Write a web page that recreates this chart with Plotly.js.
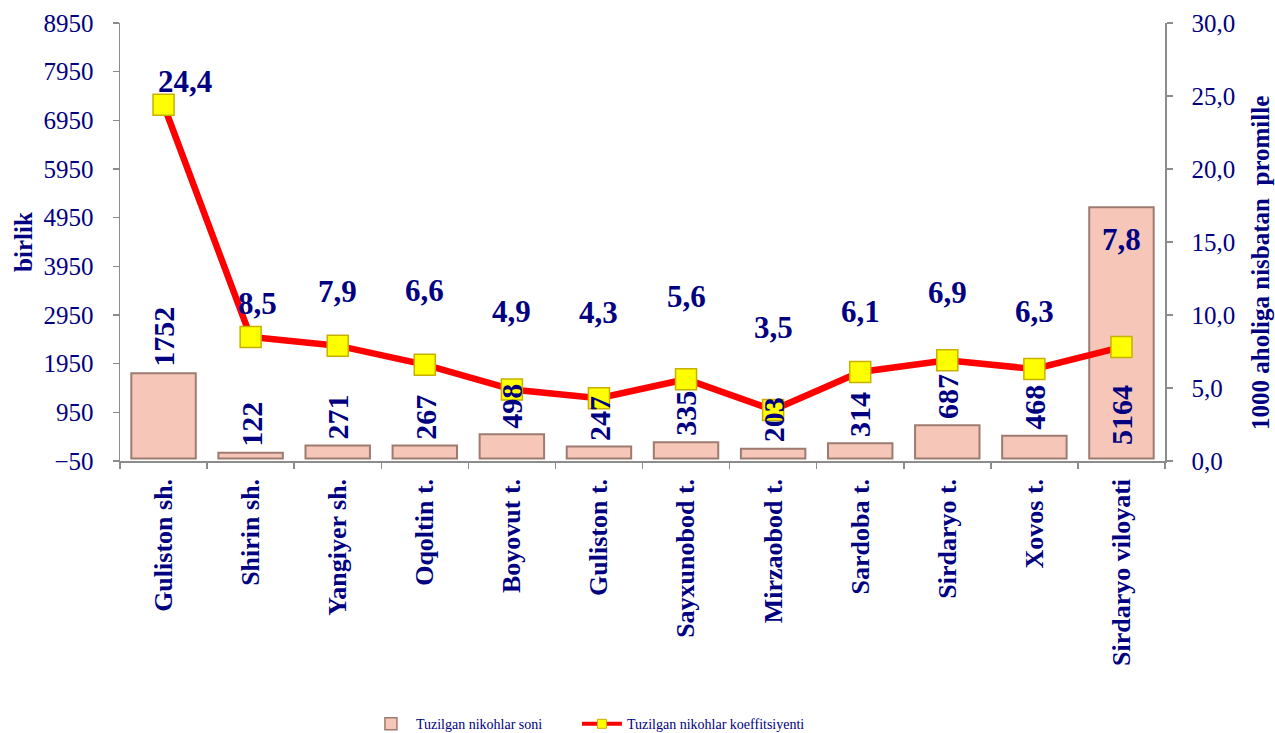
<!DOCTYPE html>
<html>
<head>
<meta charset="utf-8">
<script src="https://cdn.plot.ly/plotly-3.0.1.min.js"></script>
<style>html,body{margin:0;padding:0;background:#fff;}#chart{width:1275px;height:733px;}</style>
</head>
<body>
<div id="chart"></div>
<script>
// ---- data ----
var categories = ["Guliston sh.", "Shirin sh.", "Yangiyer sh.", "Oqoltin t.", "Boyovut t.", "Guliston t.", "Sayxunobod t.", "Mirzaobod t.", "Sardoba t.", "Sirdaryo t.", "Xovos t.", "Sirdaryo viloyati"];
var marriages = [1752, 122, 271, 267, 498, 247, 335, 203, 314, 687, 468, 5164];
var coefficient = [24.4, 8.5, 7.9, 6.6, 4.9, 4.3, 5.6, 3.5, 6.1, 6.9, 6.3, 7.8];
var seriesNames = ["Tuzilgan nikohlar soni", "Tuzilgan nikohlar koeffitsiyenti"];
var leftTitle = "birlik";
var rightTitle = "1000 aholiga nisbatan  promille";

// ---- label offsets (style) ----
var labelYShift = [23, 33, 54, 74, 78, 86, 83, 82, 60, 68, 58, 108];
var labelXShift = [21, 7, 0, 0, 0, 0, 0, 0, 0, 0, 0, 0];

var NAVY = "#000080";
var FONT = "'Times New Roman', 'Liberation Serif', serif";
var BAR_FILL = "#f6c7b9";
var BAR_EDGE = "#9e7b70";

var barTrace = {
  type: "bar",
  name: seriesNames[0],
  x: categories,
  y: marriages,
  yaxis: "y",
  width: 0.74,
  marker: { color: BAR_FILL, line: { color: BAR_EDGE, width: 2 } },
  showlegend: false
};

var lineTrace = {
  type: "scatter",
  mode: "lines+markers",
  name: seriesNames[1],
  x: categories,
  y: coefficient,
  yaxis: "y2",
  line: { color: "#ff0000", width: 6.5 },
  marker: { symbol: "square", size: 21, color: "#ffff00", line: { color: "#c8b000", width: 1.5 } },
  cliponaxis: false,
  showlegend: false
};

// legend-only entries (no data points)
var barLegend = {
  type: "bar", name: seriesNames[0], x: [null], y: [null], legend: "legend",
  marker: { color: BAR_FILL, line: { color: BAR_EDGE, width: 1.5 } }, hoverinfo: "skip"
};
var lineLegend = {
  type: "scatter", mode: "lines+markers", name: seriesNames[1], x: [null], y: [null], yaxis: "y2", legend: "legend2",
  line: { color: "#ff0000", width: 4 },
  marker: { symbol: "square", size: 9, color: "#ffff00", line: { color: "#c8b000", width: 1 } }, hoverinfo: "skip"
};

var annotations = [];
// bar value labels (drawn above all traces)
marriages.forEach(function (v, i) {
  var inside = (i === marriages.length - 1);
  annotations.push({
    x: categories[i], y: inside ? 0 : v, xref: "x", yref: "y",
    text: String(v), showarrow: false, textangle: -90,
    yanchor: "bottom", xanchor: "center",
    yshift: inside ? 12 : 4,
    font: { family: FONT, size: 30, color: NAVY, weight: "bold" }
  });
});
// line value labels
coefficient.forEach(function (v, i) {
  annotations.push({
    x: categories[i], y: v, xref: "x", yref: "y2",
    text: v.toFixed(1).replace(".", ","),
    showarrow: false,
    yshift: labelYShift[i], xshift: labelXShift[i],
    font: { family: FONT, size: 31, color: NAVY, weight: "bold" }
  });
});
// right axis title
annotations.push({
  xref: "paper", yref: "paper", x: 1, y: 0.452, xanchor: "center", yanchor: "middle",
  xshift: 95, textangle: -90, showarrow: false, text: rightTitle,
  font: { family: FONT, size: 25, color: NAVY, weight: "bold" }
});

var legendBase = {
  orientation: "h", xref: "container", yref: "container",
  xanchor: "left", y: 0.012, yanchor: "middle",
  font: { family: FONT, size: 14, color: NAVY },
  itemwidth: 40, bgcolor: "rgba(0,0,0,0)"
};

var layout = {
  width: 1275, height: 733,
  margin: { l: 120, r: 110, t: 23, b: 272, autoexpand: false },
  paper_bgcolor: "#ffffff", plot_bgcolor: "#ffffff",
  separators: ", ",
  showlegend: true,
  barmode: "overlay",
  font: { family: FONT, color: NAVY },
  xaxis: {
    type: "category", range: [-0.5, categories.length - 0.5], autorange: false,
    showline: true, linecolor: "#8c8c8c", linewidth: 1.5,
    ticks: "outside", tickson: "boundaries", ticklen: 6, tickcolor: "#8c8c8c", tickwidth: 1.5,
    tickangle: -90,
    ticklabelstandoff: 6,
    tickfont: { family: FONT, size: 26, color: NAVY, weight: "bold" },
    showgrid: false, zeroline: false
  },
  yaxis: {
    range: [-50, 8950], autorange: false, tick0: -50, dtick: 1000,
    showline: true, linecolor: "#8c8c8c", linewidth: 1.5,
    ticks: "outside", ticklen: 6, tickcolor: "#8c8c8c", tickwidth: 1.5,
    ticklabelstandoff: 14,
    tickfont: { family: FONT, size: 25, color: NAVY },
    showgrid: false, zeroline: false,
    title: { text: leftTitle, font: { family: FONT, size: 25, color: NAVY, weight: "bold" }, standoff: 4 }
  },
  yaxis2: {
    overlaying: "y", side: "right",
    range: [0, 30], autorange: false, dtick: 5, tickformat: ".1f",
    showline: true, linecolor: "#8c8c8c", linewidth: 1.5,
    ticks: "outside", ticklen: 6, tickcolor: "#8c8c8c", tickwidth: 1.5,
    ticklabelstandoff: 14,
    tickfont: { family: FONT, size: 25, color: NAVY },
    showgrid: false, zeroline: false
  },
  legend: Object.assign({}, legendBase, { x: 0.287 }),
  legend2: Object.assign({}, legendBase, { x: 0.4525 }),
  annotations: annotations
};

Plotly.newPlot("chart", [barTrace, lineTrace, barLegend, lineLegend], layout, { displayModeBar: false, staticPlot: true });
</script>
</body>
</html>
